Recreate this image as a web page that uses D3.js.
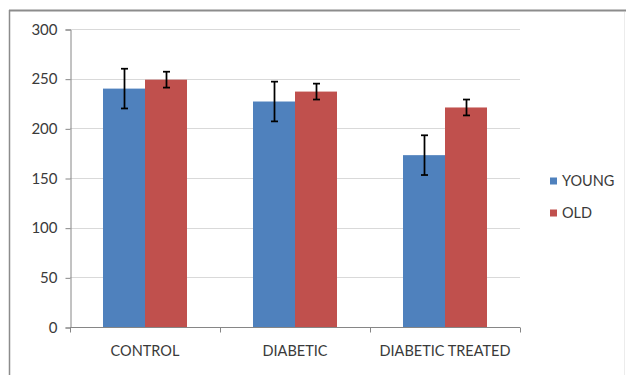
<!DOCTYPE html>
<html>
<head>
<meta charset="utf-8">
<script src="https://cdn.jsdelivr.net/npm/d3@7"></script>
<style>
  html, body { margin: 0; padding: 0; background: #fff; }
  svg { display: block; }
  text { font-family: Lato, "Open Sans", sans-serif; fill: #3a3a3a; }
</style>
</head>
<body>
<svg id="chart" width="626" height="375"></svg>
<script>
const categories = ["CONTROL", "DIABETIC", "DIABETIC TREATED"];
const seriesNames = ["YOUNG", "OLD"];
const youngValues = [240, 227, 173];
const youngErrors = [20, 20, 20];
const oldValues = [249, 237, 221];
const oldErrors = [8, 8, 8];
const yTicks = [0, 50, 100, 150, 200, 250, 300];
const colors = ["#4F81BD", "#C0504D"];

const series = [
  { name: seriesNames[0], values: youngValues, errors: youngErrors, color: colors[0] },
  { name: seriesNames[1], values: oldValues, errors: oldErrors, color: colors[1] }
];

const svg = d3.select("#chart");

// outer frame
svg.append("line").attr("x1", 9).attr("x2", 626).attr("y1", 10.5).attr("y2", 10.5)
  .attr("stroke", "#8c8c8c").attr("stroke-width", 2);
svg.append("line").attr("x1", 9.5).attr("x2", 9.5).attr("y1", 10).attr("y2", 375)
  .attr("stroke", "#8c8c8c").attr("stroke-width", 1.5);
svg.append("line").attr("x1", 624.5).attr("x2", 624.5).attr("y1", 12).attr("y2", 375)
  .attr("stroke", "#ececec").attr("stroke-width", 1);

const plotLeft = 70, plotRight = 520, plotTop = 29, plotBottom = 327;

const x = d3.scaleBand().domain(categories).range([plotLeft, plotRight]).paddingInner(0).paddingOuter(0);
const y = d3.scaleLinear().domain([0, 300]).range([plotBottom, plotTop]);
const barW = x.bandwidth() * 0.28;
const xs = d3.scaleBand().domain(seriesNames).range([0, barW * 2]);

// gridlines
svg.append("g").selectAll("line").data(yTicks.filter(d => d > 0)).join("line")
  .attr("x1", plotLeft).attr("x2", plotRight)
  .attr("y1", d => Math.round(y(d)) + 0.5).attr("y2", d => Math.round(y(d)) + 0.5)
  .attr("stroke", "#d9d9d9").attr("stroke-width", 1);

// y axis
const yAxis = d3.axisLeft(y).tickValues(yTicks).tickSize(5).tickPadding(8);
const gy = svg.append("g").attr("transform", `translate(${plotLeft + 0.5},0.5)`).call(yAxis);
gy.select(".domain").attr("stroke", "#868686");
gy.selectAll(".tick line").attr("stroke", "#868686");
gy.selectAll(".tick text").attr("font-size", 15).attr("fill", "#3a3a3a")
  .attr("font-family", "Lato, 'Open Sans', sans-serif").attr("x", -13);

// bars
const groups = svg.append("g").selectAll("g").data(series).join("g");
groups.each(function(s) {
  const g = d3.select(this);
  const offset = (x.bandwidth() - barW * 2) / 2 + xs(s.name);
  g.selectAll("rect").data(categories).join("rect")
    .attr("x", (c) => x(c) + offset)
    .attr("width", xs.bandwidth())
    .attr("y", (c, i) => y(s.values[i]))
    .attr("height", (c, i) => y(0) - y(s.values[i]))
    .attr("fill", s.color);
  const eg = g.selectAll("g.err").data(categories).join("g").attr("class", "err");
  eg.each(function(c, i) {
    const cx = Math.round(x(c) + offset + xs.bandwidth() / 2) + 0.5;
    const hi = y(s.values[i] + s.errors[i]);
    const lo = y(s.values[i] - s.errors[i]);
    const e = d3.select(this);
    e.append("line").attr("x1", cx).attr("x2", cx).attr("y1", hi).attr("y2", lo)
      .attr("stroke", "#000").attr("stroke-width", 1.75);
    [hi, lo].forEach(yy => {
      e.append("line").attr("x1", cx - 3.5).attr("x2", cx + 3.5).attr("y1", yy).attr("y2", yy)
        .attr("stroke", "#000").attr("stroke-width", 1.75);
    });
  });
});

// x axis
const gx = svg.append("g").attr("transform", `translate(0,${plotBottom + 0.5})`);
gx.append("line").attr("x1", plotLeft).attr("x2", plotRight).attr("stroke", "#868686");
const bounds = [plotLeft].concat(categories.map(c => x(c) + x.bandwidth()));
gx.selectAll("line.tk").data(bounds).join("line").attr("class", "tk")
  .attr("x1", d => Math.round(d) + 0.5).attr("x2", d => Math.round(d) + 0.5)
  .attr("y1", 0).attr("y2", 5).attr("stroke", "#868686");
gx.selectAll("text").data(categories).join("text")
  .attr("x", c => x(c) + x.bandwidth() / 2)
  .attr("y", 28)
  .attr("text-anchor", "middle")
  .attr("font-size", 14.5)
  .text(c => c);

// legend
const legend = svg.append("g");
series.forEach((s, i) => {
  const ly = 181 + i * 32;
  legend.append("rect").attr("x", 550).attr("y", ly - 3.5).attr("width", 7).attr("height", 7).attr("fill", s.color);
  legend.append("text").attr("x", 562).attr("y", ly).attr("dy", "0.35em")
    .attr("font-size", 14.5).text(s.name);
});
</script>
</body>
</html>
